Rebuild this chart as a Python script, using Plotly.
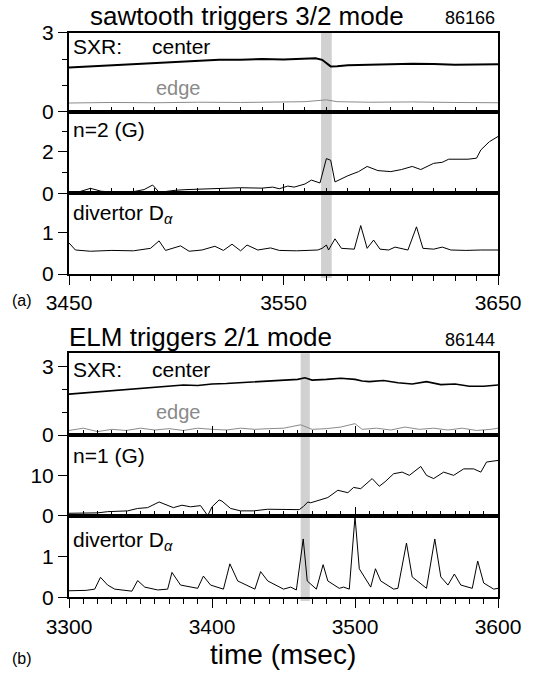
import plotly.graph_objects as go

# ---------------- data: panel (a) shot 86166 ----------------
a_center_t = [3450, 3460, 3470, 3480, 3490, 3500, 3510, 3520, 3530, 3540, 3550, 3555, 3560, 3565, 3568, 3570, 3572, 3575, 3580, 3590, 3600, 3610, 3620, 3625, 3630, 3640, 3650]
a_center_v = [1.68, 1.72, 1.77, 1.80, 1.85, 1.88, 1.92, 1.97, 1.97, 2.00, 1.98, 2.00, 2.03, 2.03, 1.97, 1.85, 1.72, 1.73, 1.76, 1.78, 1.80, 1.82, 1.81, 1.80, 1.78, 1.79, 1.80]

a_edge_t = [3450, 3470, 3490, 3510, 3530, 3550, 3560, 3570, 3575, 3590, 3610, 3630, 3650]
a_edge_v = [0.33, 0.35, 0.34, 0.36, 0.35, 0.37, 0.38, 0.45, 0.38, 0.36, 0.37, 0.35, 0.34]

a_n2_t = [3450, 3455, 3460, 3465, 3470, 3475, 3480, 3485, 3489, 3492, 3495, 3500, 3505, 3510, 3520, 3530, 3540, 3545, 3548, 3552, 3555, 3560, 3563, 3567, 3570, 3572, 3574, 3580, 3585, 3589, 3594, 3600, 3605, 3610, 3614, 3620, 3624, 3627, 3636, 3640, 3642, 3646, 3650]
a_n2_v = [0.05, 0.08, 0.24, 0.10, 0.06, 0.08, 0.08, 0.18, 0.40, 0.05, 0.10, 0.15, 0.18, 0.20, 0.25, 0.27, 0.25, 0.30, 0.22, 0.35, 0.30, 0.45, 0.64, 0.50, 1.68, 1.60, 0.55, 0.85, 1.05, 1.30, 1.10, 1.05, 1.15, 1.30, 1.15, 1.45, 1.50, 1.65, 1.65, 1.70, 2.10, 2.50, 2.75]

a_da_t = [3450, 3453, 3460, 3470, 3480, 3488, 3492, 3495, 3502, 3506, 3512, 3518, 3522, 3526, 3530, 3533, 3538, 3544, 3548, 3556, 3566, 3568, 3570, 3571, 3574, 3577, 3583, 3586, 3589, 3592, 3595, 3599, 3602, 3608, 3612, 3615, 3620, 3624, 3628, 3635, 3642, 3650]
a_da_v = [0.75, 0.58, 0.55, 0.57, 0.56, 0.62, 0.80, 0.57, 0.68, 0.55, 0.58, 0.67, 0.57, 0.72, 0.56, 0.70, 0.58, 0.63, 0.57, 0.56, 0.58, 0.62, 0.70, 0.58, 0.85, 0.62, 0.60, 1.17, 0.62, 0.82, 0.60, 0.58, 0.65, 0.58, 1.14, 0.62, 0.60, 0.65, 0.58, 0.57, 0.58, 0.58]

# ---------------- data: panel (b) shot 86144 ----------------
b_center_t = [3300, 3310, 3320, 3330, 3340, 3350, 3360, 3370, 3380, 3390, 3400, 3410, 3420, 3430, 3440, 3450, 3460, 3465, 3470, 3480, 3490, 3500, 3505, 3510, 3520, 3530, 3540, 3550, 3560, 3570, 3580, 3590, 3600]
b_center_v = [1.80, 1.85, 1.90, 1.93, 2.00, 2.03, 2.10, 2.12, 2.20, 2.18, 2.25, 2.27, 2.30, 2.33, 2.38, 2.40, 2.45, 2.52, 2.42, 2.45, 2.50, 2.45, 2.38, 2.35, 2.40, 2.30, 2.25, 2.35, 2.22, 2.25, 2.15, 2.15, 2.20]

b_edge_t = [3300, 3310, 3320, 3330, 3340, 3350, 3360, 3370, 3380, 3390, 3400, 3410, 3420, 3430, 3440, 3450, 3462, 3470, 3480, 3490, 3500, 3505, 3515, 3525, 3535, 3545, 3555, 3565, 3575, 3585, 3595, 3600]
b_edge_v = [0.20, 0.30, 0.15, 0.25, 0.20, 0.30, 0.22, 0.28, 0.20, 0.30, 0.25, 0.22, 0.30, 0.25, 0.28, 0.30, 0.45, 0.25, 0.28, 0.35, 0.50, 0.25, 0.30, 0.22, 0.35, 0.25, 0.30, 0.22, 0.30, 0.20, 0.25, 0.30]

b_n1_t = [3300, 3310, 3320, 3327, 3341, 3348, 3355, 3363, 3373, 3379, 3385, 3392, 3397, 3400, 3405, 3407, 3413, 3420, 3429, 3439, 3450, 3461, 3464, 3467, 3469, 3478, 3481, 3488, 3495, 3499, 3504, 3512, 3517, 3521, 3527, 3533, 3538, 3546, 3550, 3555, 3562, 3569, 3576, 3583, 3588, 3592, 3600]
b_n1_v = [0.6, 0.6, 0.7, 1.0, 1.2, 1.8, 2.0, 3.4, 2.0, 2.6, 2.2, 2.5, 0.0, 2.2, 3.9, 3.6, 1.8, 1.2, 1.2, 1.6, 1.5, 1.5, 2.3, 3.4, 3.2, 4.2, 4.5, 6.3, 5.7, 7.0, 6.7, 9.2, 7.3, 8.4, 10.4, 10.8, 10.0, 12.2, 10.0, 9.2, 10.8, 10.0, 11.6, 11.6, 10.8, 13.3, 13.7]

b_da_t = [3300, 3312, 3318, 3322, 3327, 3332, 3344, 3348, 3353, 3362, 3369, 3372, 3378, 3390, 3394, 3399, 3408, 3412.5, 3418, 3430, 3434, 3439, 3450, 3455, 3459, 3463.8, 3466.6, 3473, 3477.7, 3481, 3489, 3492, 3496, 3500, 3503, 3509, 3511, 3514.3, 3518, 3527, 3530, 3536, 3540, 3550, 3555.8, 3560, 3565, 3569.5, 3574, 3582, 3585.8, 3590, 3597, 3600]
b_da_v = [0.16, 0.17, 0.20, 0.49, 0.30, 0.20, 0.15, 0.41, 0.25, 0.18, 0.20, 0.61, 0.30, 0.22, 0.52, 0.30, 0.20, 0.82, 0.40, 0.20, 0.63, 0.40, 0.20, 0.25, 0.18, 1.43, 0.40, 0.20, 0.80, 0.40, 0.22, 0.25, 0.20, 1.98, 0.70, 0.35, 0.25, 0.70, 0.40, 0.20, 0.22, 1.33, 0.50, 0.22, 1.43, 0.50, 0.30, 0.57, 0.30, 0.22, 0.89, 0.35, 0.20, 0.22]

a_band = [3567.5, 3572.5]
b_band = [3462.0, 3468.4]

# ---------------- figure ----------------
W, H = 545, 675
FONT = "Liberation Sans, Arial, Helvetica, sans-serif"

def px_(x):
    return x / W

def py(y):
    return 1 - y / H

xdom = [px_(69), px_(498)]
panels = [
    # (axis idx, y top px, y bottom px, yrange, labeled ticks, minor ticks)
    (1, 32.7, 111.7, [0, 3.0], [0, 3], [1, 2]),
    (2, 111.7, 193.3, [0, 3.95], [0, 2], [1, 3]),
    (3, 193.3, 274.0, [0, 1.95], [0, 1], []),
    (4, 353.3, 435.0, [0, 3.6], [0, 3], [1, 2]),
    (5, 435.0, 515.7, [0, 20], [0, 10], []),
    (6, 515.7, 597.3, [0, 2.0], [0, 1], []),
]

fig = go.Figure()

def add(t, v, idx, color="black", width=1.0):
    fig.add_trace(go.Scatter(x=t, y=v, mode="lines", xaxis="x" if idx == 1 else f"x{idx}",
                             yaxis="y" if idx == 1 else f"y{idx}",
                             line=dict(color=color, width=width), showlegend=False, hoverinfo="skip"))

add(a_center_t, a_center_v, 1, "black", 2.0)
add(a_edge_t, a_edge_v, 1, "#8a8a8a", 1.0)
add(a_n2_t, a_n2_v, 2)
add(a_da_t, a_da_v, 3)
add(b_center_t, b_center_v, 4, "black", 1.6)
add(b_edge_t, b_edge_v, 4, "#8a8a8a", 1.0)
add(b_n1_t, b_n1_v, 5)
add(b_da_t, b_da_v, 6)

layout = dict(template="none", width=W, height=H, margin=dict(l=0, r=0, t=0, b=0, pad=0, autoexpand=False),
              autosize=False, paper_bgcolor="white", plot_bgcolor="white", showlegend=False,
              font=dict(family=FONT, color="black", size=20))

for idx, ytop, ybot, yr, yt, ym in panels:
    xk = "xaxis" if idx == 1 else f"xaxis{idx}"
    yk = "yaxis" if idx == 1 else f"yaxis{idx}"
    is_a = idx <= 3
    xr = [3450, 3650] if is_a else [3300, 3600]
    bottom = idx in (3, 6)
    xa = dict(domain=xdom, range=xr, anchor="y" if idx == 1 else f"y{idx}", automargin=False,
              showline=True, linewidth=2, linecolor="black", mirror=True, showgrid=False, zeroline=False,
              tickmode="linear", tick0=xr[0], dtick=100, ticklen=9, tickwidth=1, tickcolor="black",
              ticks="outside" if bottom else "inside",
              showticklabels=bottom, tickfont=dict(size=21, family=FONT, color="black"),
              minor=dict(dtick=10, tick0=xr[0], ticklen=5, tickwidth=1, tickcolor="black",
                         ticks="outside" if bottom else "inside", showgrid=False))
    if idx != 1 and idx != 4:
        xa["matches"] = "x" if is_a else "x4"
    ya = dict(domain=[py(ybot), py(ytop)], range=yr, anchor="x" if idx == 1 else f"x{idx}", automargin=False,
              showline=True, linewidth=2, linecolor="black", mirror=True, showgrid=False, zeroline=False,
              tickmode="array", tickvals=yt, ticktext=[str(v) for v in yt],
              ticks="outside", ticklen=9, tickwidth=1, tickcolor="black",
              tickfont=dict(size=21, family=FONT, color="black"))
    if ym:
        ya["minor"] = dict(tickmode="array", tickvals=ym, ticks="outside", ticklen=5,
                           tickwidth=1, tickcolor="black", showgrid=False)
    layout[xk] = xa
    layout[yk] = ya

fig.update_layout(**layout)

# shaded bands
BAND = "rgba(128,128,128,0.36)"
fig.add_shape(type="rect", xref="x", yref="paper", x0=a_band[0], x1=a_band[1],
              y0=py(278), y1=py(32.7), fillcolor=BAND, line=dict(width=0), layer="below")
fig.add_shape(type="rect", xref="x4", yref="paper", x0=b_band[0], x1=b_band[1],
              y0=py(601), y1=py(353.3), fillcolor=BAND, line=dict(width=0), layer="below")

def txt(x, y, s, size=20, color="black", xanchor="left"):
    fig.add_annotation(x=px_(x), y=py(y), xref="paper", yref="paper", text=s, showarrow=False,
                       xanchor=xanchor, yanchor="middle", font=dict(size=size, color=color, family=FONT))

# panel (a) texts
txt(247, 16, "sawtooth triggers 3/2 mode", 26, xanchor="center")
txt(470, 18, "86166", 18, xanchor="center")
txt(71, 47, "SXR:", 21)
txt(150, 47, "center", 21)
txt(154, 88, "edge", 20, "#8a8a8a")
txt(71, 129, "n=2 (G)", 21)
txt(71, 214, "divertor D<sub><i>α</i></sub>", 21)
txt(10, 300, "(a)", 16)

# panel (b) texts
txt(200, 337, "ELM triggers 2/1 mode", 26, xanchor="center")
txt(470, 340, "86144", 18, xanchor="center")
txt(71, 369, "SXR:", 21)
txt(150, 369, "center", 21)
txt(154, 412, "edge", 20, "#8a8a8a")
txt(71, 455, "n=1 (G)", 21)
txt(71, 541, "divertor D<sub><i>α</i></sub>", 21)
txt(10, 658, "(b)", 16)
txt(283, 654, "time (msec)", 28, xanchor="center")

# remove the page's default 8px body margin so the figure fills the window exactly
fig.write_html("out.html", config={"displayModeBar": False, "staticPlot": True},
               post_script="document.body.style.margin='0px';document.body.style.overflow='hidden';")
